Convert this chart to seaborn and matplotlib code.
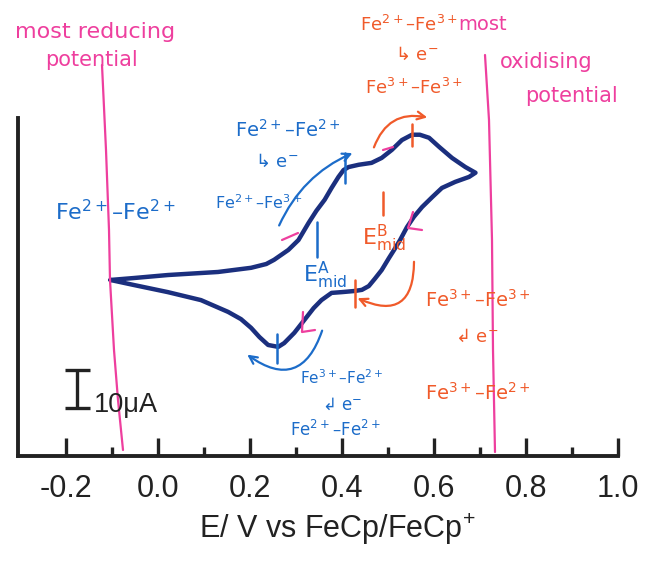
import pandas as pd
import seaborn as sns
import matplotlib
import matplotlib.pyplot as plt
matplotlib.use('Agg')

# cyclic voltammogram (E in V, I in uA, zero at start)
E_forward = [-0.104, -0.054, 0.021, 0.130, 0.202, 0.235, 0.252, 0.283, 0.305, 0.327,
             0.344, 0.362, 0.377, 0.392, 0.403, 0.414, 0.436, 0.464, 0.486, 0.508,
             0.530, 0.552, 0.569, 0.589, 0.611, 0.639, 0.668, 0.690]
I_forward = [0.0, 0.5, 1.3, 2.1, 3.2, 4.2, 5.3, 7.9, 10.5, 15.0,
             18.2, 21.1, 24.2, 27.1, 28.9, 29.7, 30.3, 30.8, 32.1, 34.2,
             36.8, 38.2, 38.2, 37.4, 35.0, 32.1, 29.7, 28.2]
E_reverse = [0.676, 0.646, 0.617, 0.596, 0.574, 0.556, 0.541, 0.526, 0.513, 0.502,
             0.486, 0.471, 0.458, 0.443, 0.427, 0.399, 0.377, 0.355, 0.338, 0.318,
             0.296, 0.274, 0.261, 0.239, 0.220, 0.202, 0.180, 0.152, 0.093, 0.021,
             -0.054, -0.104]
I_reverse = [27.1, 25.8, 24.2, 21.8, 19.2, 16.6, 13.9, 10.5, 7.9, 5.8,
             2.6, 0.3, -1.6, -2.6, -2.9, -3.2, -3.4, -5.3, -7.4, -10.5,
             -13.9, -16.6, -17.6, -17.1, -15.0, -12.6, -10.3, -8.4, -5.3, -3.2,
             -1.3, 0.0]
xticks = [-0.2, 0.0, 0.2, 0.4, 0.6, 0.8, 1.0]
xtick_labels = ['-0.2', '0.0', '0.2', '0.4', '0.6', '0.8', '1.0']
minor_ticks = [-0.1, 0.1, 0.3, 0.5, 0.7, 0.9]
scale_uA = 10

cv_df = pd.DataFrame({'E': E_forward + E_reverse, 'I': I_forward + I_reverse})

sns.set_theme(style="white")
plt.rcParams['font.family'] = ['Liberation Sans', 'DejaVu Sans']
plt.rcParams['mathtext.fontset'] = 'dejavusans'
plt.rcParams['mathtext.default'] = 'regular'

W, H = 646, 562
fig = plt.figure(figsize=(W / 100, H / 100), dpi=100)
ax = fig.add_axes([18 / W, 1 - 456 / H, 600 / W, 338 / H])
ax.patch.set_alpha(0)

sns.lineplot(data=cv_df, x='E', y='I', sort=False, estimator=None,
             color='#1b2f7e', linewidth=3.2, ax=ax)
ax.lines[0].set_solid_joinstyle('round')
ax.lines[0].set_solid_capstyle('round')

ax.set_xlim(-0.305, 1.0)
ax.set_ylim(-46.3, 42.6)
sns.despine(ax=ax, top=True, right=True)
for s in ['left', 'bottom']:
    ax.spines[s].set_linewidth(2.8)
    ax.spines[s].set_color('#222222')
ax.set_xticks(xticks)
ax.set_xticklabels(xtick_labels)
ax.set_xticks(minor_ticks, minor=True)
ax.set_yticks([])
ax.tick_params(axis='x', which='major', direction='in', length=13, width=2.4,
               color='#222222', labelsize=22, labelcolor='#222222', pad=13, bottom=True)
ax.tick_params(axis='x', which='minor', direction='in', length=6.5, width=2.4,
               color='#222222', bottom=True)
ax.set_xlabel('E/ V vs FeCp/FeCp$^{+}$', fontsize=22, color='#222222')
ax.xaxis.set_label_coords(0.532, -0.165)
ax.set_ylabel('')

# 10 uA scale bar
sb_E, sb_I = -0.176, -33.7
ax.errorbar([sb_E], [sb_I + scale_uA / 2], yerr=[scale_uA / 2], fmt='none',
            ecolor='#222222', elinewidth=2.4, capsize=9, capthick=2.4)
ax.text(-0.141, sb_I - 1.0, '10μA', fontsize=19.5, color='#222222', va='baseline')

# ---- handwritten annotations (figure pixel positions) ----
pink = '#ee3f9e'
blue = '#1c6cc9'
orange = '#f05a2a'
hand = ['DejaVu Sans']


def P(x, y):
    return x / W, 1 - y / H


def line(pts, color, lw=1.6):
    xs = [P(x, y)[0] for x, y in pts]
    ys = [P(x, y)[1] for x, y in pts]
    ax.plot(xs, ys, color=color, lw=lw, transform=fig.transFigure, clip_on=False)


def note(x, y, s, color, size):
    fig.text(*P(x, y), s, color=color, fontsize=size, family=hand,
             ha='left', va='center')


def arrow(start, end, color, rad):
    ax.annotate('', xy=P(*end), xycoords='figure fraction',
                xytext=P(*start), textcoords='figure fraction',
                arrowprops=dict(arrowstyle='->', color=color, lw=1.6,
                                connectionstyle='arc3,rad=%s' % rad,
                                mutation_scale=14))


# potential limits
line([(102, 65), (106, 150), (109, 230), (110, 280), (114, 350), (118, 400), (123, 450)], pink)
line([(485, 55), (489, 120), (492, 240), (493, 350), (495, 452)], pink)
note(15, 32, 'most reducing', pink, 16)
note(45, 60, 'potential', pink, 15)
note(458, 25, 'most', pink, 14)
note(500, 62, 'oxidising', pink, 15)
note(525, 96, 'potential', pink, 15)

# species labels
note(360, 25, 'Fe$^{2+}$–Fe$^{3+}$', orange, 13)
note(395, 55, '↳ e$^{-}$', orange, 13)
note(365, 88, 'Fe$^{3+}$–Fe$^{3+}$', orange, 13)
note(425, 300, 'Fe$^{3+}$–Fe$^{3+}$', orange, 14)
note(455, 337, '↲ e$^{-}$', orange, 13)
note(425, 393, 'Fe$^{3+}$–Fe$^{2+}$', orange, 14)
note(362, 238, 'E$^{B}_{mid}$', orange, 16)

note(235, 130, 'Fe$^{2+}$–Fe$^{2+}$', blue, 14)
note(255, 162, '↳ e$^{-}$', blue, 13)
note(215, 203, 'Fe$^{2+}$–Fe$^{3+}$', blue, 11.5)
note(55, 212, 'Fe$^{2+}$–Fe$^{2+}$', blue, 16)
note(303, 275, 'E$^{A}_{mid}$', blue, 16)
note(300, 378, 'Fe$^{3+}$–Fe$^{2+}$', blue, 11)
note(322, 405, '↲ e$^{-}$', blue, 12)
note(290, 430, 'Fe$^{2+}$–Fe$^{2+}$', blue, 12)

# peak markers
line([(345, 153), (345, 183)], blue, 1.8)
line([(412, 124), (412, 146)], orange, 1.8)
line([(277, 334), (277, 363)], blue, 1.8)
line([(355, 280), (355, 307)], orange, 1.8)
line([(317, 222), (317, 257)], blue, 1.8)
line([(383, 192), (383, 215)], orange, 1.8)

# direction ticks on the curve
line([(282, 240), (298, 233)], pink)
line([(383, 150), (393, 147)], pink)
line([(413, 212), (408, 228), (422, 230)], pink)
line([(303, 312), (302, 332), (315, 330)], pink)

# curved arrows
arrow((278, 228), (355, 152), blue, -0.2)
arrow((373, 150), (430, 118), orange, -0.45)
arrow((323, 328), (245, 353), blue, -0.7)
arrow((414, 259), (355, 297), orange, -0.8)

fig.savefig('out.png', dpi=100, facecolor='white')
